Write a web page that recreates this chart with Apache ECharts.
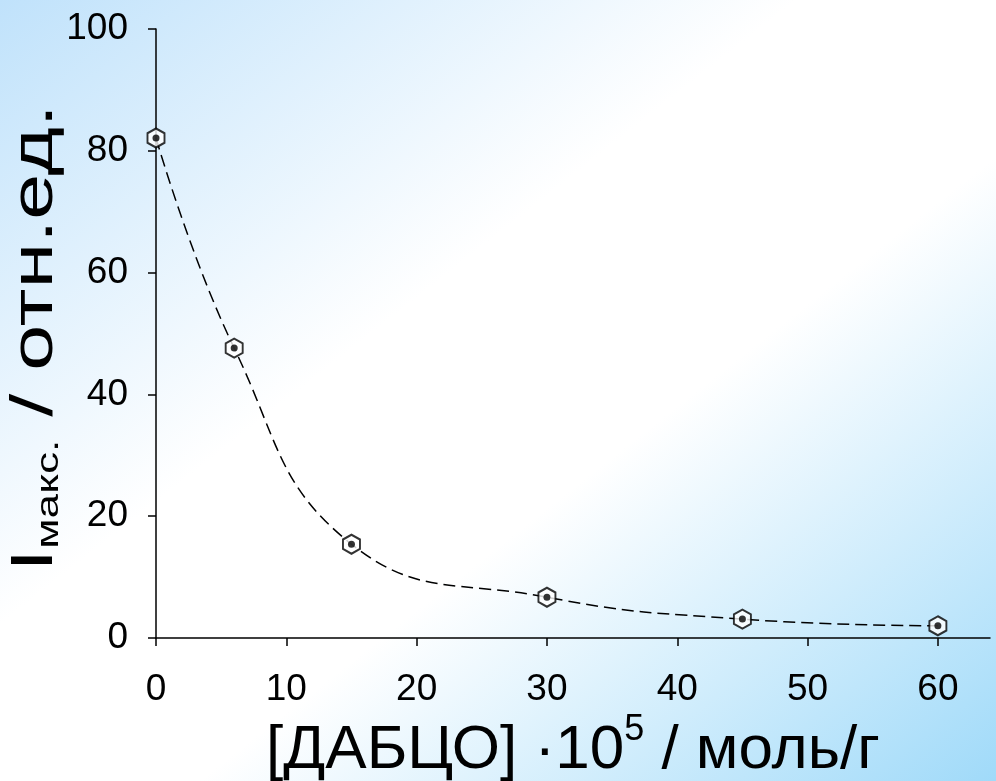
<!DOCTYPE html>
<html>
<head>
<meta charset="utf-8">
<script src="https://cdn.jsdelivr.net/npm/echarts@6/dist/echarts.min.js"></script>
<style>html,body{margin:0;padding:0;}#c{width:996px;height:781px;}</style>
</head>
<body>
<div id="c"></div>
<script>
const xValues = [0, 6, 15, 30, 45, 60];
const yValues = [82.1, 47.6, 15.4, 6.7, 3.1, 2.0];
const xTicks = [0, 10, 20, 30, 40, 50, 60];
const yTicks = [0, 20, 40, 60, 80, 100];
const xTitle = '{a|[ДАБЦО] ·10}{sup|5}{a| / моль/г}';
const yTitle = '{i|I}{sub|макс.}{a| / отн.ед.}';

const pts = xValues.map((x, i) => [x, yValues[i]]);
const hex = 'path://M0,-1 L0.866,-0.5 L0.866,0.5 L0,1 L-0.866,0.5 L-0.866,-0.5 Z';
const font = 'Liberation Sans, Arial, sans-serif';

const chart = echarts.init(document.getElementById('c'), null, {renderer: 'canvas'});
chart.setOption({
  animation: false,
  backgroundColor: new echarts.graphic.LinearGradient(119, -93, 877, 874, [
    {offset: 0, color: '#c0e2fb'},
    {offset: 0.4, color: '#ffffff'},
    {offset: 0.6, color: '#ffffff'},
    {offset: 1, color: '#a0daf9'}
  ], true),
  grid: {left: 156, top: 29, right: 6, bottom: 143, containLabel: false, outerBoundsMode: 'none'},
  graphic: [{
    type: 'text',
    x: 35, y: 338,
    rotation: Math.PI / 2,
    scaleX: 1.38, scaleY: 1,
    style: {
      text: yTitle,
      align: 'center', verticalAlign: 'middle',
      rich: {
        i: {fontSize: 60, fontFamily: font, fill: '#000'},
        sub: {fontSize: 32, fontFamily: font, fill: '#000', verticalAlign: 'bottom', padding: [22, 0, 0, 0]},
        a: {fontSize: 60, fontFamily: font, fill: '#000'}
      }
    }
  }],
  xAxis: {
    type: 'value', min: 0, max: 64, interval: 10,
    axisLine: {lineStyle: {color: '#000', width: 1.5}},
    axisTick: {length: 8, lineStyle: {color: '#000', width: 1.5}, customValues: xTicks},
    axisLabel: {customValues: xTicks, color: '#000', fontSize: 37, fontFamily: font, margin: 33},
    splitLine: {show: false},
    name: xTitle,
    nameLocation: 'middle', nameGap: 74, nameMoveOverlap: false,
    nameTextStyle: {
      rich: {
        a: {fontSize: 62, fontFamily: font, color: '#000'},
        sup: {fontSize: 36, fontFamily: font, color: '#000', verticalAlign: 'top', padding: [0, 0, 42, 0]}
      }
    }
  },
  yAxis: {
    type: 'value', min: 0, max: 100, interval: 20,
    axisLine: {show: true, lineStyle: {color: '#000', width: 1.5}},
    axisTick: {show: true, length: 8, lineStyle: {color: '#000', width: 1.5}, customValues: yTicks},
    axisLabel: {customValues: yTicks, color: '#000', fontSize: 37, fontFamily: font, margin: 28},
    splitLine: {show: false}
  },
  series: [
    {
      type: 'line', data: pts, smooth: 0.45, symbol: 'none',
      lineStyle: {color: '#000', width: 1.5, type: [12, 6]}, z: 2
    },
    {
      type: 'scatter', data: pts, symbol: hex, symbolSize: [17, 19],
      itemStyle: {color: '#fff', borderColor: '#000', borderWidth: 2}, z: 3
    },
    {
      type: 'scatter', data: pts, symbol: 'circle', symbolSize: 7,
      itemStyle: {color: '#000'}, z: 4
    }
  ]
});
</script>
</body>
</html>
